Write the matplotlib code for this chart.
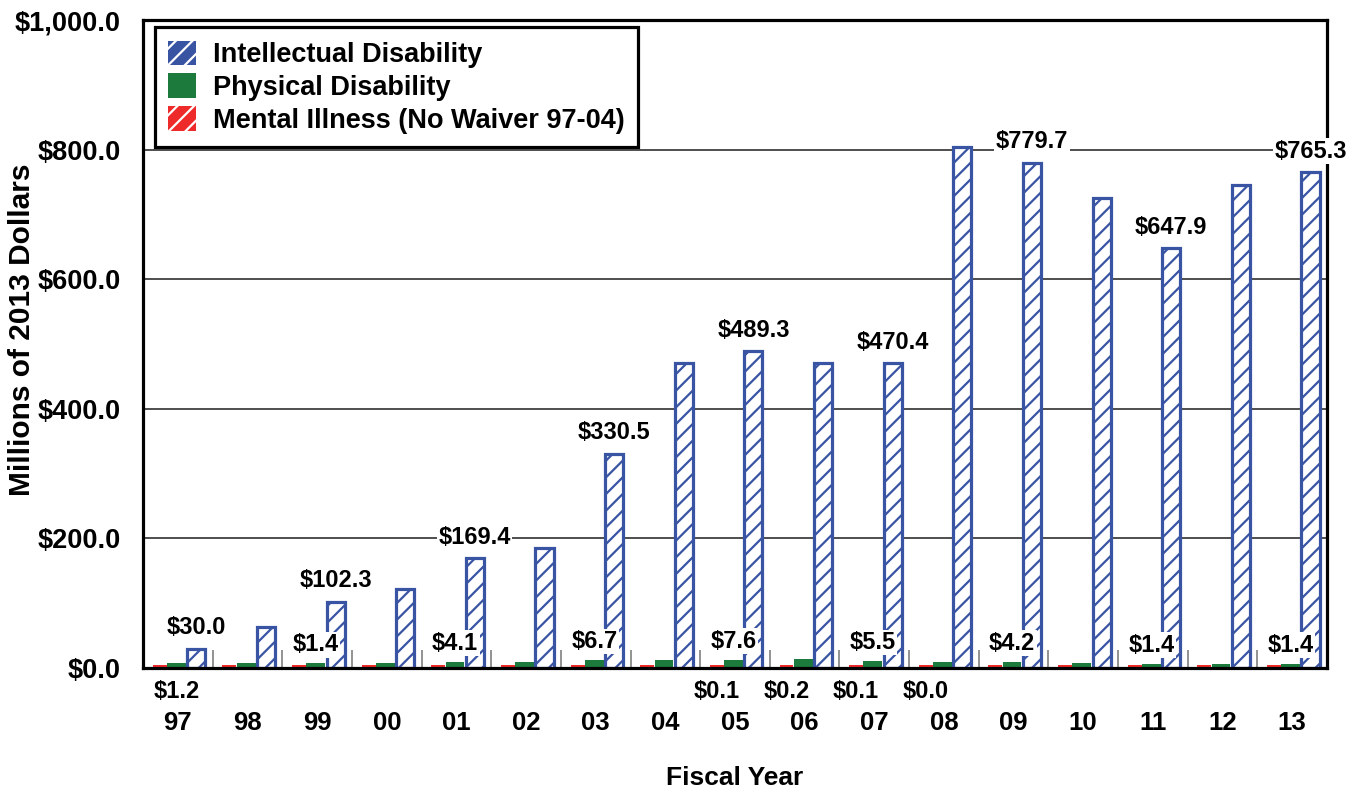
#!/usr/bin/env python3
# coding=utf-8
"""Waiver spending by fiscal year, grouped bars."""

import numpy as np
import matplotlib

matplotlib.use("Agg")
import matplotlib.pyplot as plt
from matplotlib.patches import Patch

years = ["97", "98", "99", "00", "01", "02", "03", "04", "05",
         "06", "07", "08", "09", "10", "11", "12", "13"]

# millions of 2013 dollars
intellectual = [30.0, 63, 102.3, 122, 169.4, 185, 330.5, 471, 489.3,
                470, 470.4, 804, 779.7, 725, 647.9, 745, 765.3]
# small bars are drawn larger than their labels in the original
physical = [7, 7, 7, 7.5, 9, 9, 12, 12.5, 12.5, 13.5, 10.5, 9, 9,
            7.5, 6.5, 6.5, 6.5]
mental = [4] * 17

intel_labels = ["$30.0", "", "$102.3", "", "$169.4", "", "$330.5", "",
                "$489.3", "", "$470.4", "", "$779.7", "", "$647.9", "",
                "$765.3"]
phys_labels_above = ["", "", "$1.4", "", "$4.1", "", "$6.7", "", "$7.6",
                     "", "$5.5", "", "$4.2", "", "$1.4", "", "$1.4"]
phys_labels_below = ["$1.2"] + [""] * 16
mental_labels_below = ["", "", "", "", "", "", "", "", "$0.1", "$0.2",
                       "$0.1", "$0.0", "", "", "", "", ""]

BLUE = "#3a54a4"
GREEN = "#1b7a3c"
RED = "#ee2a2a"


def main():
    plt.rcParams["font.family"] = ["Liberation Sans", "DejaVu Sans"]
    plt.rcParams["font.weight"] = "bold"
    plt.rcParams["hatch.linewidth"] = 1.6

    fig = plt.figure(figsize=(13.56, 7.88), dpi=100)
    ax = fig.add_axes([0.1055, 0.1523, 0.873, 0.8223])

    x = np.arange(len(years))
    ax.bar(x - 0.26, mental, 0.2, color=RED, linewidth=0, zorder=2)
    ax.bar(x - 0.02, physical, 0.27, color=GREEN, linewidth=0, zorder=3)
    ax.bar(x + 0.265, intellectual, 0.26, facecolor="white",
           edgecolor=BLUE, linewidth=2.3, hatch="//", zorder=3)

    box = dict(facecolor="white", edgecolor="none", pad=1)
    for i in range(len(years)):
        if intel_labels[i]:
            ax.annotate(intel_labels[i], (x[i] + 0.265, intellectual[i]),
                        xytext=(0, 15), textcoords="offset points",
                        ha="center", va="center", fontsize=17,
                        bbox=box, zorder=6, annotation_clip=False)
        if phys_labels_above[i]:
            ax.annotate(phys_labels_above[i], (x[i] - 0.02, physical[i]),
                        xytext=(0, 13.5), textcoords="offset points",
                        ha="center", va="center", fontsize=17,
                        bbox=box, zorder=6)
        if phys_labels_below[i]:
            ax.annotate(phys_labels_below[i], (x[i] - 0.02, 0),
                        xytext=(0, -17), textcoords="offset points",
                        ha="center", va="center", fontsize=17,
                        annotation_clip=False)
        if mental_labels_below[i]:
            ax.annotate(mental_labels_below[i], (x[i] - 0.26, 0),
                        xytext=(0, -17), textcoords="offset points",
                        ha="center", va="center", fontsize=17,
                        annotation_clip=False)

    ax.set_xlim(-0.5, len(years) - 0.5)
    ax.set_ylim(0, 1000)
    ax.set_xticks(x)
    ax.set_xticklabels(years, fontsize=18.5)
    ax.set_xticks(np.arange(0.5, len(years) - 1, 1.0), minor=True)
    ax.tick_params(axis="x", which="major", length=0, pad=31)
    ax.tick_params(axis="x", which="minor", direction="in", length=13,
                   width=1.2, color="#808080")
    ax.set_yticks(np.arange(0, 1001, 200))
    ax.set_yticklabels([f"${v:,.1f}" for v in np.arange(0, 1001, 200)],
                       fontsize=19.5)
    ax.tick_params(axis="y", length=0, pad=16)

    ax.yaxis.grid(True, color="#303030", linewidth=1.2)
    ax.set_axisbelow(True)
    for sp in ax.spines.values():
        sp.set_linewidth(2.3)
        sp.set_zorder(5)

    fig.text(22 / 1356, 0.581, "Millions of 2013 Dollars", rotation=90,
             ha="center", va="center", fontsize=21.5)
    fig.text(0.542, 0.013, "Fiscal Year", ha="center", va="center",
             fontsize=19)

    handles = [
        Patch(facecolor=BLUE, edgecolor="white", hatch="//", linewidth=0,
              label="Intellectual Disability"),
        Patch(facecolor=GREEN, linewidth=0, label="Physical Disability"),
        Patch(facecolor=RED, edgecolor="white", hatch="//", linewidth=0,
              label="Mental Illness (No Waiver 97-04)"),
    ]
    leg = ax.legend(handles=handles, loc="upper left",
                    bbox_to_anchor=(0.010, 0.989), borderaxespad=0,
                    fontsize=19.5, fancybox=False, framealpha=1,
                    edgecolor="black", handlelength=1.0, handleheight=1.0,
                    handletextpad=0.65, labelspacing=0.2, borderpad=0.5)
    leg.get_frame().set_linewidth(2.3)
    leg.set_zorder(7)

    fig.savefig("out.png", dpi=100)


if __name__ == "__main__":
    main()
